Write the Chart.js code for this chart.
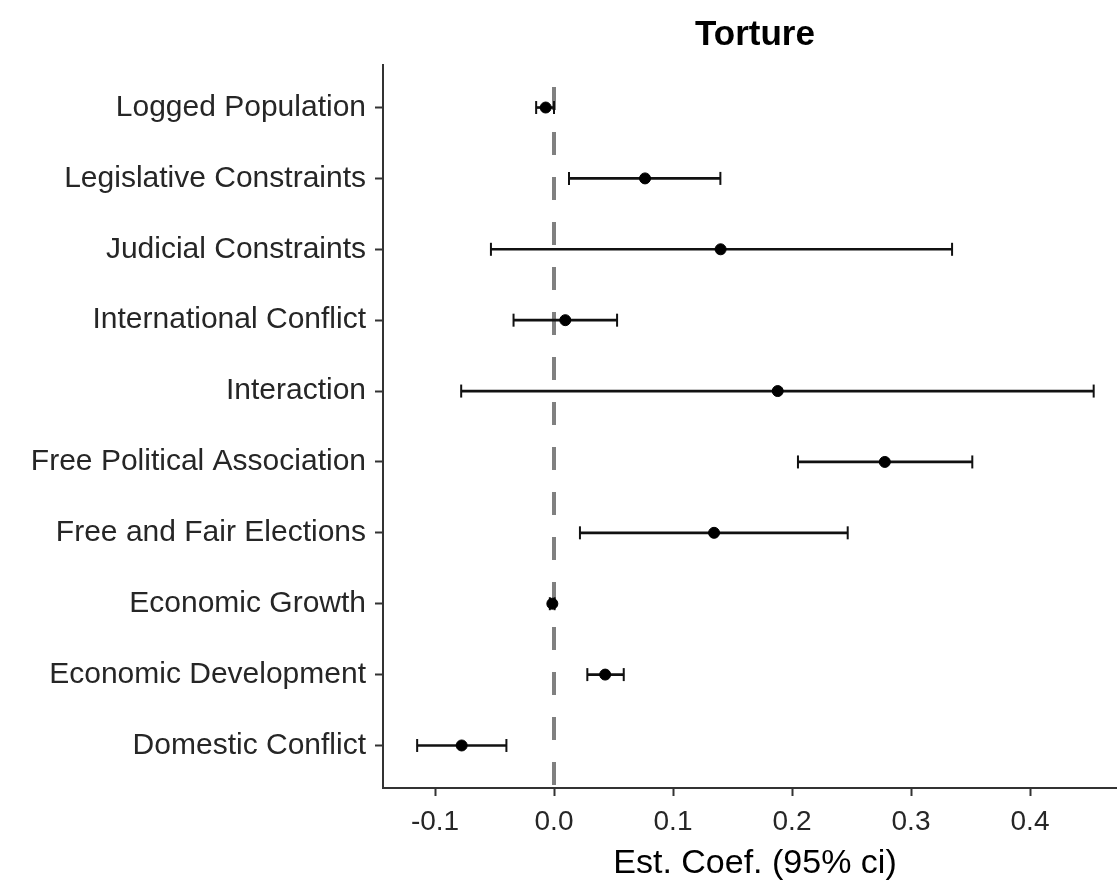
<!DOCTYPE html>
<html>
<head>
<meta charset="utf-8">
<script src="https://cdn.jsdelivr.net/npm/chart.js@4/dist/chart.umd.min.js"></script>
<style>
  html, body { margin: 0; padding: 0; background: #fff; overflow: hidden; }
  #wrap { width: 1127px; height: 884px; }
  canvas { display: block; }
</style>
</head>
<body>
<div id="wrap"><canvas id="c" width="1127" height="884"></canvas></div>
<script>
// Model terms, listed top to bottom
const terms = [
  'Logged Population',
  'Legislative Constraints',
  'Judicial Constraints',
  'International Conflict',
  'Interaction',
  'Free Political Association',
  'Free and Fair Elections',
  'Economic Growth',
  'Economic Development',
  'Domestic Conflict'
];
// Point estimates and 95% confidence bounds
const estimate = [-0.007, 0.0765, 0.140, 0.0095, 0.188, 0.278, 0.1345, -0.0014, 0.043, -0.0776];
const lower    = [-0.015, 0.0126, -0.053, -0.034, -0.078, 0.205, 0.0218, -0.0035, 0.028, -0.115];
const upper    = [ 0.000, 0.1398, 0.3345, 0.053, 0.4535, 0.3515, 0.2468, 0.0005, 0.0586, -0.040];
const xTicks = [-0.1, 0.0, 0.1, 0.2, 0.3, 0.4];

const n = terms.length;
const rowOf = i => n - i; // first term sits at the top
const FONT = "'Liberation Sans', Arial, Helvetica, sans-serif";

const ciBars = terms.map((t, i) => ({ x: [lower[i], upper[i]], y: rowOf(i) }));
const capLo = terms.map((t, i) => ({ x: lower[i], y: rowOf(i) }));
const capHi = terms.map((t, i) => ({ x: upper[i], y: rowOf(i) }));
const pts = terms.map((t, i) => ({ x: estimate[i], y: rowOf(i) }));
const zeroLine = [{ x: 0, y: n + 0.6 }, { x: 0, y: 0.4 }];

new Chart(document.getElementById('c'), {
  data: {
    datasets: [
      {
        type: 'line', data: zeroLine, borderColor: '#808080', borderWidth: 4,
        borderDash: [23, 22], borderDashOffset: 23, pointRadius: 0, order: 5
      },
      {
        type: 'bar', indexAxis: 'y', data: ciBars, backgroundColor: '#111',
        borderWidth: 0, barThickness: 2, order: 4
      },
      {
        type: 'scatter', data: capLo, pointStyle: 'line', rotation: 90,
        pointRadius: 6.5, borderColor: '#111', borderWidth: 2, order: 3
      },
      {
        type: 'scatter', data: capHi, pointStyle: 'line', rotation: 90,
        pointRadius: 6.5, borderColor: '#111', borderWidth: 2, order: 2
      },
      {
        type: 'scatter', data: pts, pointStyle: 'circle', pointRadius: 5.5,
        backgroundColor: '#000', borderColor: '#000', borderWidth: 1, order: 1
      }
    ]
  },
  options: {
    responsive: false,
    animation: false,
    events: [],
    layout: { autoPadding: false, padding: { top: 0, right: 0, bottom: 0, left: 0 } },
    plugins: {
      legend: { display: false },
      tooltip: { enabled: false },
      title: {
        display: true, text: 'Torture', fullSize: false, color: '#000',
        font: { family: FONT, size: 35, weight: 'bold', lineHeight: 1.2 },
        padding: { top: 14, bottom: 9 }
      }
    },
    scales: {
      x: {
        type: 'linear', position: 'bottom',
        min: -0.1437, max: 0.4815,
        afterBuildTicks: s => { s.ticks = xTicks.map(v => ({ value: v })); },
        afterFit: s => { s.height = 96; },
        border: { display: true, color: '#333', width: 2 },
        grid: { display: true, drawOnChartArea: false, drawTicks: true, tickLength: 8, tickColor: '#333', tickWidth: 2 },
        ticks: {
          color: '#262626', padding: 9, maxRotation: 0,
          font: { family: FONT, size: 28 },
          callback: v => v.toFixed(1)
        },
        title: {
          display: true, text: 'Est. Coef. (95% ci)', color: '#000',
          font: { family: FONT, size: 34, lineHeight: 1.2 },
          padding: { top: 0, bottom: 0 }
        }
      },
      y: {
        type: 'linear', position: 'left',
        min: 0.4, max: n + 0.6,
        offset: false,
        afterBuildTicks: s => { s.ticks = terms.map((t, i) => ({ value: rowOf(i) })); },
        afterFit: s => { s.width = 383; },
        border: { display: true, color: '#333', width: 2 },
        grid: { display: true, offset: false, drawOnChartArea: false, drawTicks: true, tickLength: 8, tickColor: '#333', tickWidth: 2 },
        ticks: {
          color: '#262626', padding: 9,
          font: { family: FONT, size: 30 },
          callback: v => terms[n - v]
        }
      }
    }
  }
});
</script>
</body>
</html>
